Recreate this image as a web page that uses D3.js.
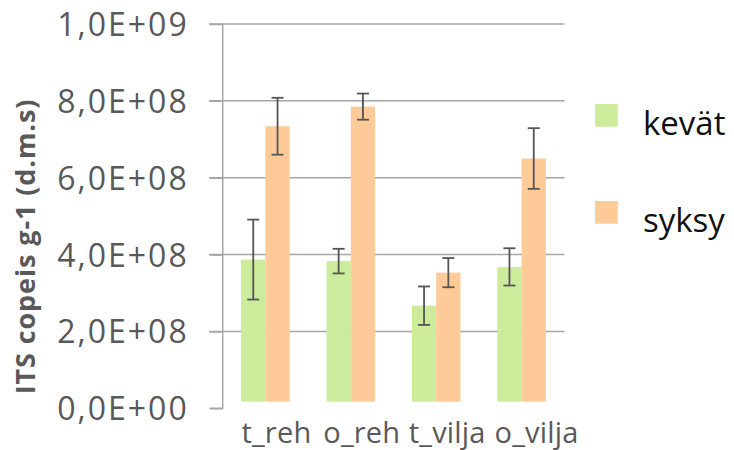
<!DOCTYPE html>
<html><head><meta charset="utf-8">
<script src="https://cdn.jsdelivr.net/npm/d3@7"></script>
<style>html,body{margin:0;padding:0;background:#fff;}svg{display:block;}</style>
</head><body>
<svg id="c" width="734" height="450"></svg>
<script>
const categories = ["t_reh", "o_reh", "t_vilja", "o_vilja"];
const seriesNames = ["kevät", "syksy"];
const kevat = [3.87e8, 3.83e8, 2.67e8, 3.68e8];
const syksy = [7.34e8, 7.85e8, 3.53e8, 6.50e8];
const kevatErr = [1.04e8, 0.32e8, 0.50e8, 0.485e8];
const syksyErr = [0.74e8, 0.34e8, 0.38e8, 0.79e8];
const yTicks = [0, 2e8, 4e8, 6e8, 8e8, 1e9];
const yTickLabels = ["0,0E+00", "2,0E+08", "4,0E+08", "6,0E+08", "8,0E+08", "1,0E+09"];
const yTitle = "ITS copeis g-1  (d.m.s)";
const colors = ["#cdec9b", "#fecb98"];

const svg = d3.select("#c");
const font = "'Open Sans', 'Noto Sans', sans-serif";
const textCol = "#595959";
const gridCol = "#a6a6a6";

const x0 = d3.scaleBand().domain(categories).range([222.7, 564.3]).paddingInner(0).paddingOuter(0);
const x1 = d3.scaleBand().domain(seriesNames).range([0, 48.6]);
const y = d3.scaleLinear().domain([0, 1e9]).range([408.3, 24]);

// gridlines
svg.append("g").selectAll("line").data(yTicks.filter(d => d > 0)).join("line")
  .attr("x1", 209).attr("x2", 564.5)
  .attr("y1", d => y(d)).attr("y2", d => y(d))
  .attr("stroke", gridCol).attr("stroke-width", 1.5);

// y axis
const yAxis = d3.axisLeft(y).tickValues(yTicks).tickFormat((d, i) => yTickLabels[i]).tickSize(13).tickPadding(21);
const ga = svg.append("g").attr("transform", "translate(222.7,0)").call(yAxis);
ga.select(".domain").attr("stroke", gridCol).attr("stroke-width", 1.5).attr("d", `M-13,${y(0)}H0V${y(1e9)}`);
ga.selectAll(".tick line").attr("stroke", gridCol).attr("stroke-width", 1.5);
ga.selectAll(".tick text").attr("fill", textCol).style("font-family", font).style("font-size", "32px")
  .style("letter-spacing", "2px").attr("dy", "0.36em");

// bars
const data = categories.map((c, i) => ({c, vals: [
  {s: seriesNames[0], v: kevat[i], e: kevatErr[i], col: colors[0]},
  {s: seriesNames[1], v: syksy[i], e: syksyErr[i], col: colors[1]}
]}));
const baseY = y(0) - 6.6;
const grp = svg.append("g").selectAll("g").data(data).join("g")
  .attr("transform", d => `translate(${x0(d.c) + (x0.bandwidth() - 48.6) / 2},0)`);
grp.selectAll("rect").data(d => d.vals).join("rect")
  .attr("x", d => x1(d.s)).attr("width", x1.bandwidth())
  .attr("y", d => y(d.v)).attr("height", d => baseY - y(d.v))
  .attr("fill", d => d.col);

// error bars
const eb = grp.selectAll("g.eb").data(d => d.vals).join("g").attr("class", "eb")
  .attr("stroke", "#555").attr("stroke-width", 1.8);
eb.append("line").attr("x1", d => x1(d.s) + x1.bandwidth() / 2).attr("x2", d => x1(d.s) + x1.bandwidth() / 2)
  .attr("y1", d => y(d.v + d.e)).attr("y2", d => y(d.v - d.e));
eb.append("line").attr("x1", d => x1(d.s) + x1.bandwidth() / 2 - 6).attr("x2", d => x1(d.s) + x1.bandwidth() / 2 + 6)
  .attr("y1", d => y(d.v + d.e)).attr("y2", d => y(d.v + d.e));
eb.append("line").attr("x1", d => x1(d.s) + x1.bandwidth() / 2 - 6).attr("x2", d => x1(d.s) + x1.bandwidth() / 2 + 6)
  .attr("y1", d => y(d.v - d.e)).attr("y2", d => y(d.v - d.e));

// x labels
svg.append("g").selectAll("text").data(categories).join("text")
  .attr("x", (d, i) => x0(d) + x0.bandwidth() / 2 + 11 + (i === 3 ? 4 : 0)).attr("y", 443.3)
  .attr("text-anchor", "middle").attr("fill", textCol)
  .style("font-family", font).style("font-size", "29px").style("letter-spacing", "0.2px").text(d => d);

// y title
svg.append("text").attr("transform", "translate(35,246.5) rotate(-90)")
  .attr("text-anchor", "middle").attr("fill", textCol)
  .style("font-family", font).style("font-size", "27px").style("font-weight", "bold")
  .style("letter-spacing", "0.9px")
  .text(yTitle);

// legend
const leg = svg.append("g").selectAll("g").data(seriesNames).join("g")
  .attr("transform", (d, i) => `translate(595,${104 + i * 97})`);
leg.append("rect").attr("width", 22.7).attr("height", 22.7).attr("fill", (d, i) => colors[i]);
leg.append("text").attr("x", 48).attr("y", 31).attr("fill", "#111")
  .style("font-family", font).style("font-size", "33px").text(d => d);
</script>
</body></html>
